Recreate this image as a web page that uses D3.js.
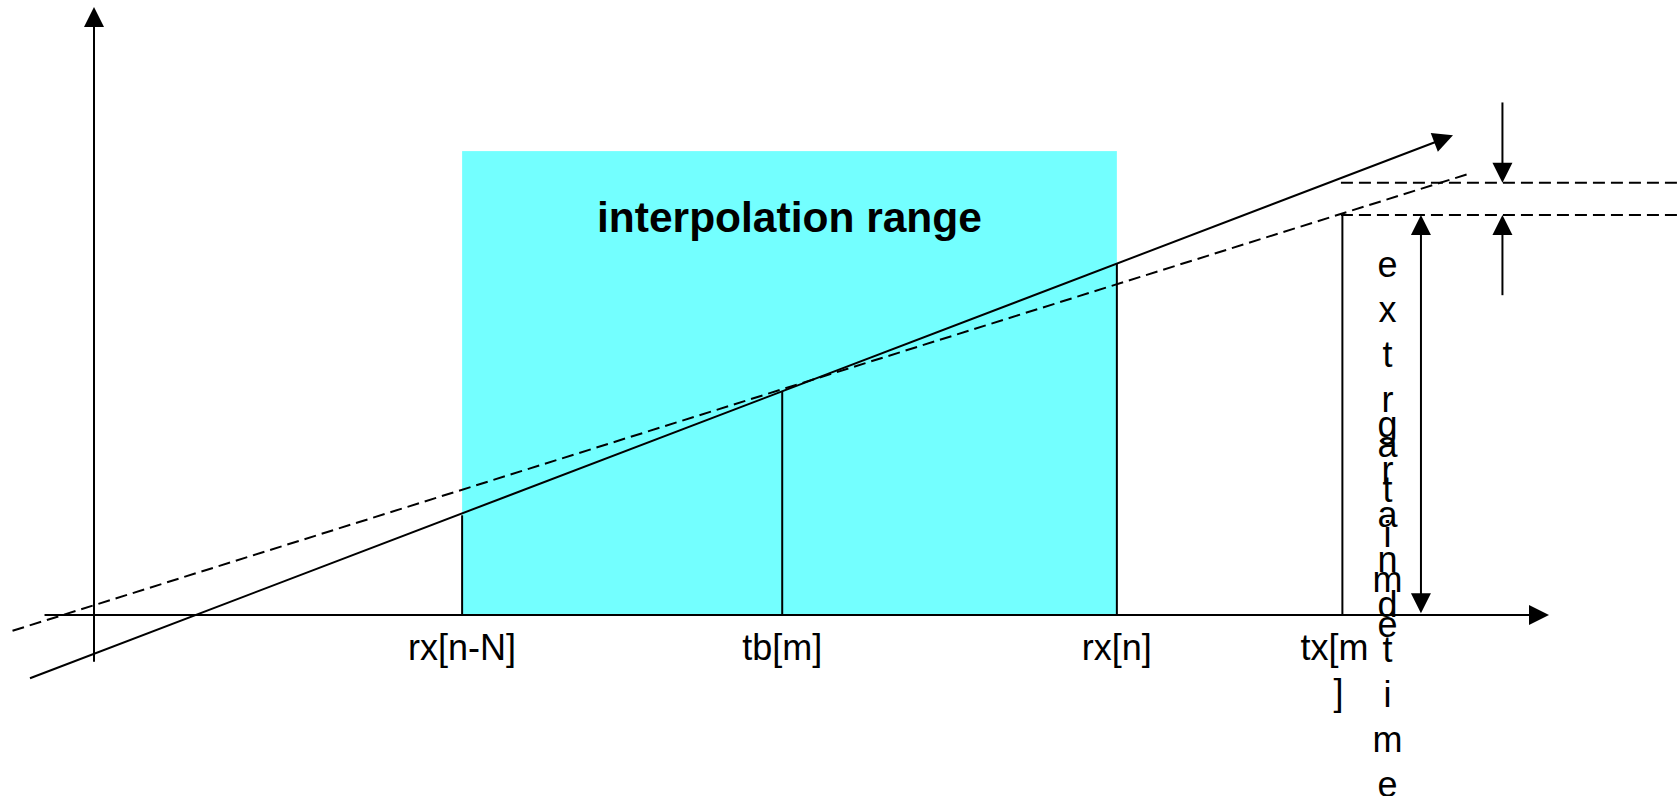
<!DOCTYPE html>
<html><head><meta charset="utf-8">
<script src="https://cdn.jsdelivr.net/npm/d3@7"></script>
<style>html,body{margin:0;padding:0;background:#fff;overflow:hidden}</style>
</head><body><svg id="c" width="1680" height="796"></svg>
<script>
// ---- data (diagram units: x 0..100 along time axis, y 0..100 along value axis) ----
const tickLabels = ["rx[n-N]", "tb[m]", "rx[n]", "tx[m]"];
const tickX = [25.3, 47.3, 70.3, 85.8];
const tickTop = [16.4, 36.8, 57.9, 65.8];
const rangeX = [25.3, 70.3];
const rangeTop = 76.3;
const rangeLabel = "interpolation range";
const solidLineX = [-4.4, 93.4];
const solidLineY = [-10.4, 78.9];
const dashedLineX = [-5.6, 94.4];
const dashedLineY = [-2.6, 72.5];
const levelY = [71.1, 65.8];
const levelX = [85.7, 109.0];
const spanArrowX = 91.2;
const spanArrowY = [0.3, 65.8];
const errArrowX = 96.8;
const errArrowFrom = [84.3, 52.6];
const errArrowTo = [71.1, 65.8];
const xAxisX = [-3.4, 100];
const yAxisY = [-7.7, 100];
const verticalLabels = ["extra time", "grand time"];
const verticalLabelX = 88.9;
const verticalLabelTop = [55.6, 29.3];

// ---- scales ----
const x = d3.scaleLinear().domain([0, 100]).range([94, 1549]);
const y = d3.scaleLinear().domain([0, 100]).range([615, 7]);

const svg = d3.select("#c");
const FONT = "'Liberation Sans', Arial, Helvetica, sans-serif";
const LW = 2;
const HEAD_L = 20, HEAD_W = 10;

function head(tx, ty, fx, fy) {
  const dx = tx - fx, dy = ty - fy, len = Math.hypot(dx, dy);
  const ux = dx / len, uy = dy / len, px = -uy, py = ux;
  const bx = tx - ux * HEAD_L, by = ty - uy * HEAD_L;
  svg.append("polygon")
    .attr("points", [[tx, ty], [bx + px * HEAD_W, by + py * HEAD_W], [bx - px * HEAD_W, by - py * HEAD_W]].map(p => p.join(",")).join(" "))
    .attr("fill", "#000");
}
function line(x1, y1, x2, y2, dash) {
  const l = svg.append("line").attr("x1", x1).attr("y1", y1).attr("x2", x2).attr("y2", y2)
    .attr("stroke", "#000").attr("stroke-width", LW);
  if (dash) l.attr("stroke-dasharray", "12,6");
  return l;
}

// interpolation range box
svg.append("rect")
  .attr("x", x(rangeX[0])).attr("y", y(rangeTop))
  .attr("width", x(rangeX[1]) - x(rangeX[0])).attr("height", y(0) - y(rangeTop))
  .attr("fill", "#73ffff");
svg.append("text")
  .attr("x", (x(rangeX[0]) + x(rangeX[1])) / 2).attr("y", y(rangeTop) + 81)
  .attr("text-anchor", "middle").attr("font-family", FONT).attr("font-weight", "bold")
  .attr("font-size", 42.5).text(rangeLabel);

// vertical guides at ticks
tickX.forEach((t, i) => line(x(t), y(0), x(t), y(tickTop[i])));

// axes
line(x(xAxisX[0]), y(0), x(xAxisX[1]) - 5, y(0));
head(x(xAxisX[1]), y(0), x(xAxisX[0]), y(0));
line(x(0), y(yAxisY[0]), x(0), y(yAxisY[1]) + 5);
head(x(0), y(yAxisY[1]), x(0), y(yAxisY[0]));

// fitted lines
line(x(dashedLineX[0]), y(dashedLineY[0]), x(dashedLineX[1]), y(dashedLineY[1]), true);
line(x(solidLineX[0]), y(solidLineY[0]), x(solidLineX[1]) - 5, y(solidLineY[1]) + 2);
head(x(solidLineX[1]), y(solidLineY[1]), x(solidLineX[0]), y(solidLineY[0]));

// horizontal level lines
levelY.forEach(v => line(x(levelX[0]), y(v), x(levelX[1]), y(v), true));

// span (double) arrow
line(x(spanArrowX), y(spanArrowY[0]) - 5, x(spanArrowX), y(spanArrowY[1]) + 5);
head(x(spanArrowX), y(spanArrowY[0]), x(spanArrowX), y(spanArrowY[1]));
head(x(spanArrowX), y(spanArrowY[1]), x(spanArrowX), y(spanArrowY[0]));

// error arrows
errArrowFrom.forEach((f, i) => {
  const t = errArrowTo[i];
  const sgn = Math.sign(y(t) - y(f));
  line(x(errArrowX), y(f), x(errArrowX), y(t) - sgn * 5);
  head(x(errArrowX), y(t), x(errArrowX), y(f));
});

// tick labels
tickLabels.forEach((lab, i) => {
  const tx = svg.append("text").attr("x", x(tickX[i])).attr("y", y(0) + 45)
    .attr("text-anchor", "middle").attr("font-family", FONT).attr("font-size", 36);
  if (lab === "tx[m]") {
    tx.append("tspan").attr("x", x(tickX[i]) - 8).text("tx[m");
    tx.append("tspan").attr("x", x(tickX[i]) - 4).attr("dy", 45).text("]");
  } else tx.text(lab);
});

// vertical stacked labels (one character per line)
verticalLabels.forEach((lab, k) => {
  const t = svg.append("text").attr("text-anchor", "middle").attr("font-family", FONT).attr("font-size", 36);
  lab.replace(/ /g, "").split("").forEach((ch, i) => {
    t.append("tspan").attr("x", x(verticalLabelX)).attr("y", y(verticalLabelTop[k]) + i * 45).text(ch);
  });
});
</script>
</body></html>
